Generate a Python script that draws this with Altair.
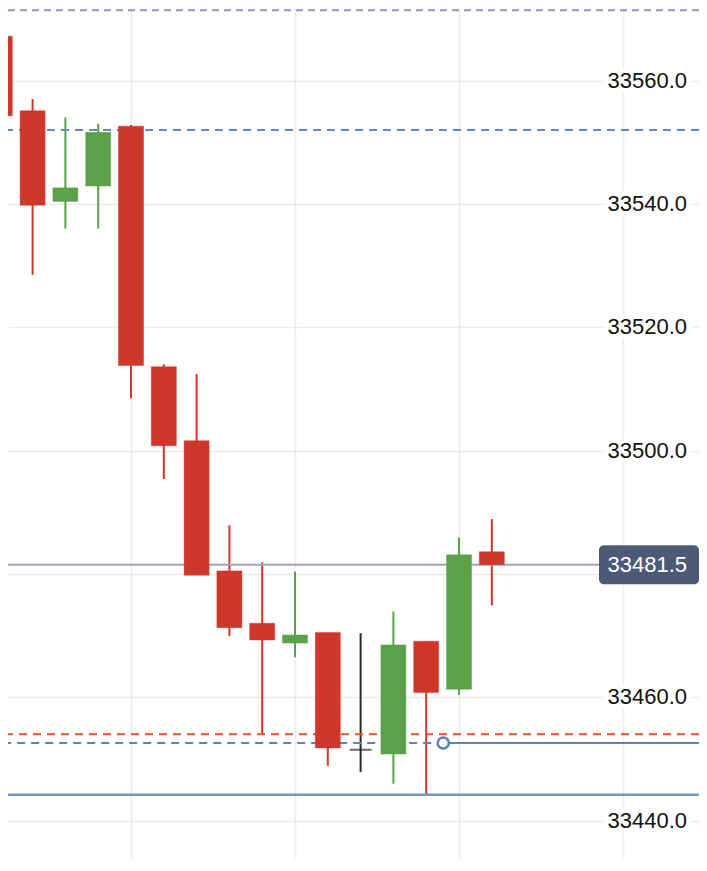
import altair as alt
import pandas as pd

# ---- candle data (index = bar number) ----
idx = list(range(16))
opens = [33567.2, 33555.1, 33540.4, 33542.9, 33552.6, 33513.6, 33501.6, 33480.5,
         33472.0, 33468.8, 33470.5, 33451.5, 33450.8, 33469.1, 33461.3, 33483.6]
highs = [33568.5, 33557.0, 33554.0, 33553.0, 33552.8, 33514.0, 33512.4, 33487.9,
         33481.9, 33480.4, 33470.5, 33470.4, 33473.9, 33469.1, 33485.9, 33488.9]
lows = [33546.6, 33528.5, 33536.0, 33536.0, 33508.5, 33495.4, 33479.8, 33469.9,
        33453.9, 33466.5, 33448.9, 33447.9, 33446.0, 33444.0, 33460.4, 33474.9]
closes = [33554.3, 33539.8, 33542.6, 33551.6, 33513.8, 33500.8, 33479.8, 33471.3,
          33469.3, 33470.1, 33451.8, 33451.5, 33468.5, 33460.8, 33483.1, 33481.5]

# ---- horizontal levels ----
purple_level = [33571.4]
blue_dash_level = [33552.0]
last_price = [33481.5]
orange_level = [33454.0]
position_level = [33452.6]
position_bar = [13.52]
support_level = [33444.2]

y_ticks = [33440, 33460, 33480, 33500, 33520, 33540, 33560]
x_grid = [4, 9, 14, 19]

X_DOMAIN = [0.25, 21.317]
Y_DOMAIN = [33433.95, 33571.76]

df = pd.DataFrame(dict(i=idx, o=opens, h=highs, l=lows, c=closes))
df["dir"] = ["up" if c > o else ("down" if c < o else "flat") for o, c in zip(opens, closes)]

xs = alt.Scale(domain=X_DOMAIN, nice=False, zero=False, padding=0)
ys = alt.Scale(domain=Y_DOMAIN, nice=False, zero=False, padding=0)
cscale = alt.Scale(domain=["up", "down", "flat"], range=["#5aa14a", "#cf372b", "#2b2b2b"])

FONT = "Liberation Sans"
FS = 22

x_axis = alt.Axis(values=x_grid, grid=True, labels=False, ticks=False, domain=False,
                  title=None, gridColor="#ececec", gridWidth=1.5)
y_axis = alt.Axis(orient="right", values=y_ticks, labels=False, ticks=False, domain=False,
                  grid=True, gridColor="#ececec", gridWidth=1.5, title=None)

base = alt.Chart(df)

wicks = base.mark_rule(strokeWidth=2, clip=True).encode(
    x=alt.X("i:Q", scale=xs, axis=x_axis, title=None),
    y=alt.Y("l:Q", scale=ys, axis=y_axis, title=None),
    y2="h:Q",
    color=alt.Color("dir:N", scale=cscale, legend=None),
)

bodies = base.transform_filter("datum.dir != 'flat'").mark_bar(
    size=25, strokeWidth=1, strokeOpacity=0.45, clip=True
).encode(
    x=alt.X("i:Q", scale=xs, title=None),
    y=alt.Y("o:Q", scale=ys, title=None),
    y2="c:Q",
    fill=alt.Fill("dir:N", scale=cscale, legend=None),
    stroke=alt.Stroke("dir:N", scale=cscale, legend=None),
)

doji = base.transform_filter("datum.dir == 'flat'").mark_tick(
    orient="horizontal", size=22, thickness=2, color="#2b2b2b", clip=True
).encode(
    x=alt.X("i:Q", scale=xs, title=None),
    y=alt.Y("c:Q", scale=ys, title=None),
)


def hline(values, color, width, dash=None):
    kw = dict(color=color, strokeWidth=width, clip=True)
    if dash:
        kw["strokeDash"] = dash
    return alt.Chart(pd.DataFrame({"v": values})).mark_rule(**kw).encode(
        y=alt.Y("v:Q", scale=ys, title=None)
    )


purple = hline(purple_level, "#9b8ec4", 2, [7, 5])
blue_dash = hline(blue_dash_level, "#6589c0", 2, [8, 6])
last_line = hline(last_price, "#9ea6b7", 2)
orange = hline(orange_level, "#e0572a", 2, [8, 6])
support = hline(support_level, "#7098cb", 2.5)

pos_df = pd.DataFrame({"v": position_level, "x0": [X_DOMAIN[0] - 1], "xs": position_bar,
                       "x1": [X_DOMAIN[1] + 1]})
pos_dash = alt.Chart(pos_df).mark_rule(color="#5b82b9", strokeWidth=2, strokeDash=[8, 6], clip=True).encode(
    x=alt.X("x0:Q", scale=xs, title=None), x2="xs:Q", y=alt.Y("v:Q", scale=ys, title=None)
)
pos_solid = alt.Chart(pos_df).mark_rule(color="#5b82b9", strokeWidth=2, clip=True).encode(
    x=alt.X("xs:Q", scale=xs, title=None), x2="x1:Q", y=alt.Y("v:Q", scale=ys, title=None)
)
pos_pt = alt.Chart(pos_df).mark_point(
    shape="circle", size=125, filled=True, fill="white", stroke="#5b82b9", strokeWidth=2.5, opacity=1
).encode(
    x=alt.X("xs:Q", scale=xs, title=None), y=alt.Y("v:Q", scale=ys, title=None)
)

# price-scale labels (the one hidden under the last-price box is left out)
lab_df = pd.DataFrame({"v": [t for t in y_ticks if abs(t - last_price[0]) > 4]})
lab_mask = alt.Chart(lab_df).mark_text(
    align="right", baseline="middle", font=FONT, fontSize=FS, color="white",
    stroke="white", strokeWidth=9, strokeJoin="round"
).encode(
    x=alt.value(679), y=alt.Y("v:Q", scale=ys, title=None), text=alt.Text("v:Q", format=".1f")
)
lab_txt = alt.Chart(lab_df).mark_text(
    align="right", baseline="middle", font=FONT, fontSize=FS, color="#111111"
).encode(
    x=alt.value(679), y=alt.Y("v:Q", scale=ys, title=None), text=alt.Text("v:Q", format=".1f")
)

last_df = pd.DataFrame({"v": last_price})
price_box = alt.Chart(last_df).mark_rect(height=39, cornerRadius=5, color="#4c5a77").encode(
    x=alt.value(591), x2=alt.value(691), y=alt.Y("v:Q", scale=ys, title=None)
)
price_txt = alt.Chart(last_df).mark_text(
    align="right", baseline="middle", font=FONT, fontSize=FS, color="white"
).encode(
    x=alt.value(679), y=alt.Y("v:Q", scale=ys, title=None), text=alt.Text("v:Q", format=".1f")
)

chart = alt.layer(
    wicks, purple, blue_dash, last_line, orange, support, pos_dash, pos_solid,
    bodies, doji, pos_pt, lab_mask, lab_txt, price_box, price_txt
).properties(
    width=691, height=850, padding=0, autosize=alt.AutoSizeParams(type="none"),
    background="white"
).configure_view(stroke=None)

chart.save("out.html", embed_options={"renderer": "svg", "actions": False})
